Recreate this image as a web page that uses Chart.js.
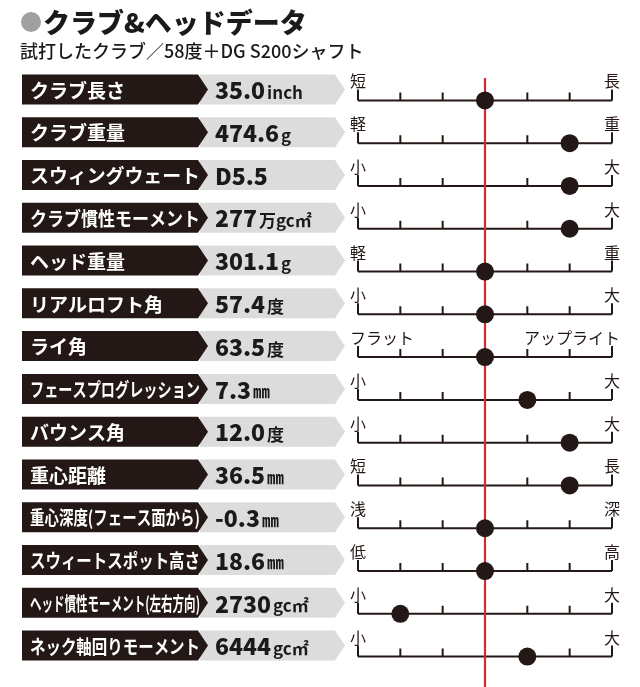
<!DOCTYPE html><html><head><meta charset="utf-8">
<script src="https://cdn.jsdelivr.net/npm/chart.js@4"></script>
<style>html,body{margin:0;padding:0;background:#fff}#c{display:block}</style></head><body>
<div style="width:640px;height:687px"><canvas id="c"></canvas></div>
<script>
const labels=["クラブ長さ","クラブ重量","スウィングウェート","クラブ慣性モーメント","ヘッド重量","リアルロフト角","ライ角","フェースプログレッション","バウンス角","重心距離","重心深度(フェース面から)","スウィートスポット高さ","ヘッド慣性モーメント(左右方向)","ネック軸回りモーメント"];
const values=["35.0","474.6","D5.5","277","301.1","57.4","63.5","7.3","12.0","36.5","-0.3","18.6","2730","6444"];
const units=["inch","g","","万gc㎡","g","度","度","㎜","度","㎜","㎜","㎜","gc㎡","gc㎡"];
const leftEnds=["短","軽","小","小","軽","小","フラット","小","小","短","浅","低","小","小"];
const rightEnds=["長","重","大","大","重","大","アップライト","大","大","長","深","高","大","大"];
const positions=[3,5,5,5,3,3,3,4,5,5,3,3,1,4];
const ticks=[0,1,2,3,4,5,6];
const F='"Noto Sans CJK JP","Noto Sans",sans-serif';
const deco={id:'deco',beforeDatasetsDraw(ch){
 const c=ch.ctx,xs=ch.scales.x,ys=ch.scales.y;
 c.save();
 c.fillStyle='#a0a0a0';c.beginPath();c.arc(31,22,10,0,7);c.fill();
 c.fillStyle='#1a1a1a';c.font='900 27px '+F;c.textBaseline='alphabetic';c.textAlign='left';
 c.fillText('クラブ&ヘッドデータ',43,33);
 c.font='500 18px '+F;c.fillText('試打したクラブ／58度＋DG S200シャフト',20,58);
 labels.forEach((l,i)=>{
  const ay=ys.getPixelForValue(i),cy=ay-11,t=cy-15,b=cy+15;
  c.fillStyle='#dcdcdc';c.beginPath();c.moveTo(200,t);c.lineTo(335,t);c.lineTo(345,cy);c.lineTo(335,b);c.lineTo(200,b);c.fill();
  c.fillStyle='#231815';c.beginPath();c.moveTo(22,t);c.lineTo(198,t);c.lineTo(208,cy);c.lineTo(198,b);c.lineTo(22,b);c.fill();
  c.fillStyle='#fff';c.font='bold 19px '+F;c.textBaseline='middle';c.textAlign='left';
  c.fillText(l,30,cy+1,170);
  c.fillStyle='#1a1a1a';c.font='900 23px '+F;c.fillText(values[i],215,cy+1);
  const w=c.measureText(values[i]).width;c.font='bold 17px '+F;c.fillText(units[i],217+w,cy+3);
  const x0=xs.getPixelForValue(0),x6=xs.getPixelForValue(6);
  c.strokeStyle='#231815';c.lineWidth=2;c.beginPath();c.moveTo(x0,ay);c.lineTo(x6,ay);
  ticks.forEach(k=>{const px=xs.getPixelForValue(k);c.moveTo(px,ay);c.lineTo(px,ay-((k==0||k==6)?11:8));});c.stroke();
  c.fillStyle='#231815';c.font='16px '+F;c.textBaseline='alphabetic';
  c.textAlign='left';c.fillText(leftEnds[i],x0-8,ay-13);c.textAlign='right';c.fillText(rightEnds[i],x6+8,ay-13);
 });
 const rx=xs.getPixelForValue(3);c.strokeStyle='#d42a32';c.lineWidth=2.2;c.beginPath();c.moveTo(rx,78);c.lineTo(rx,687);c.stroke();
 c.restore();
}};
new Chart(document.getElementById('c'),{type:'scatter',
 data:{datasets:[{data:positions.map((p,i)=>({x:p,y:i})),pointRadius:9,pointHoverRadius:9,backgroundColor:'#231815',borderWidth:0}]},
 options:{responsive:true,maintainAspectRatio:false,animation:false,events:[],
  layout:{padding:{left:358,right:28,top:79,bottom:0}},
  plugins:{legend:{display:false},tooltip:{enabled:false}},
  scales:{x:{type:'linear',min:0,max:6,display:false},y:{type:'linear',min:-0.5,max:13.5,reverse:true,display:false}}},
 plugins:[deco]});
</script></body></html>
